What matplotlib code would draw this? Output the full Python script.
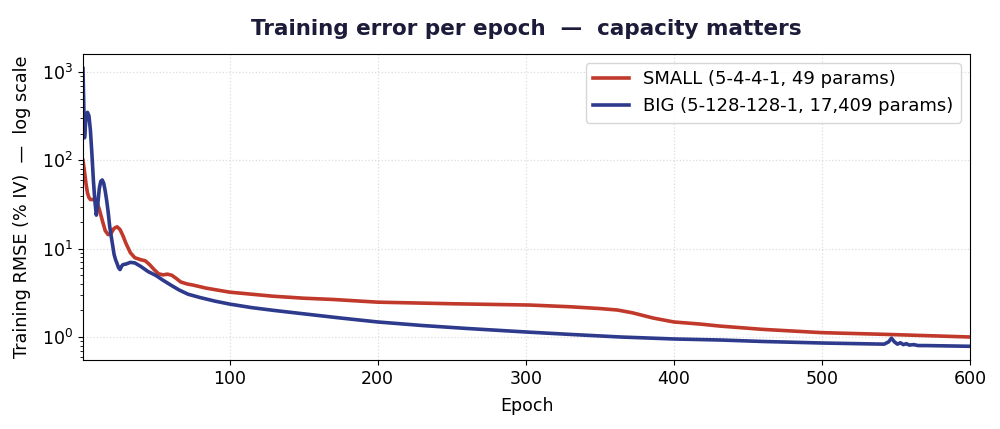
import matplotlib
matplotlib.use("Agg")
from matplotlib import pyplot as plt

# SMALL network (5-4-4-1)
small_epochs = [1, 2, 3, 4, 5, 6, 8, 9, 10, 12, 14, 16, 18, 20, 22, 24, 26, 28, 30, 33, 36, 40,
                43, 46, 49, 52, 55, 58, 61, 64, 67, 71, 76, 84, 100, 129, 150, 170, 200, 250,
                303, 330, 350, 362, 372, 386, 400, 418, 431, 460, 500, 544, 600]
small_rmse = [100, 75, 55, 43, 38, 36, 36, 37, 35, 28, 21, 16, 14.4, 15, 17, 17.7, 16.5, 14, 11.5,
              9, 7.9, 7.5, 7.3, 6.6, 5.8, 5.2, 5.05, 5.15, 5.0, 4.6, 4.2, 4.0, 3.85, 3.58, 3.22,
              2.9, 2.75, 2.66, 2.48, 2.38, 2.3, 2.2, 2.1, 2.02, 1.88, 1.64, 1.48, 1.40, 1.33, 1.22,
              1.12, 1.07, 1.0]

# BIG network (5-128-128-1)
big_epochs = [1, 2, 3, 4, 5, 6, 7, 8, 9, 10, 11, 12, 13, 14, 15, 16, 17, 18, 19, 20, 21, 22, 23,
              24, 25, 26, 27, 28, 30, 33, 36, 40, 45, 50, 55, 60, 66, 72, 80, 90, 100, 115, 130,
              150, 175, 200, 230, 260, 300, 330, 364, 400, 431, 460, 500, 542, 545, 547, 549, 551,
              553, 555, 557, 559, 562, 565, 570, 580, 600]
big_rmse = [1100, 180, 300, 350, 320, 220, 120, 60, 35, 24, 32, 48, 58, 60, 55, 45, 35, 26, 18, 14,
            11, 8.6, 7.5, 6.8, 6.1, 5.8, 6.3, 6.6, 6.7, 7.0, 6.9, 6.3, 5.5, 5.0, 4.4, 3.9, 3.4,
            3.05, 2.8, 2.55, 2.36, 2.15, 2.0, 1.83, 1.64, 1.48, 1.35, 1.25, 1.14, 1.07, 1.0, 0.95,
            0.925, 0.89, 0.855, 0.83, 0.88, 0.97, 0.88, 0.83, 0.86, 0.82, 0.84, 0.81, 0.82, 0.80,
            0.80, 0.795, 0.785]

fig = plt.figure(figsize=(10, 4.29), dpi=100)
ax = fig.add_axes([0.083, 0.161, 0.887, 0.713])

ax.plot(small_epochs, small_rmse, color="#c0392b", lw=2.6, label="SMALL (5-4-4-1, 49 params)")
ax.plot(big_epochs, big_rmse, color="#2e3a8c", lw=2.6, label="BIG (5-128-128-1, 17,409 params)")

ax.set_yscale("log")
ax.set_xlim(1, 600)
ax.set_ylim(0.55, 1600)
ax.set_xlabel("Epoch", fontsize=12.5, labelpad=7)
ax.set_ylabel("Training RMSE (% IV)  —  log scale", fontsize=12.7, labelpad=8)
ax.tick_params(labelsize=12.5)
ax.grid(True, which="major", linestyle=":", color="#dddddd", lw=0.9)
ax.legend(loc="upper right", fontsize=13, handlelength=2.0)
ax.set_title("Training error per epoch  —  capacity matters", fontsize=15.5,
             fontweight="bold", color="#1c1c3a", pad=14)

fig.savefig("out.png", dpi=100)
